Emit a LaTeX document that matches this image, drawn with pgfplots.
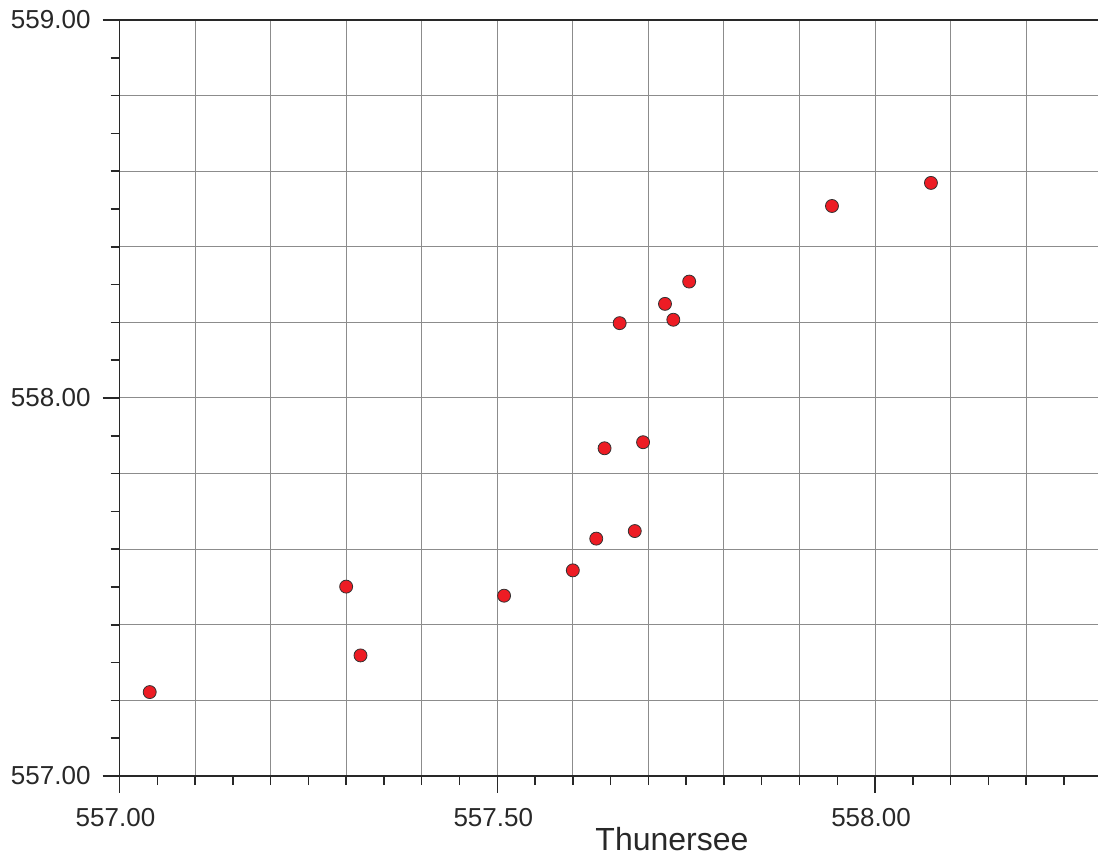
\documentclass[border=0pt]{standalone}
\usepackage{pgfplots}
\pgfplotsset{compat=1.18}
\usepackage{fontspec}
\setmainfont{Liberation Sans}
\definecolor{ptred}{RGB}{237,28,36}
\definecolor{ptedge}{RGB}{50,50,50}
\definecolor{gridgray}{RGB}{140,140,140}
\definecolor{axisgray}{RGB}{40,40,40}
\begin{document}
\begin{tikzpicture}
\begin{axis}[
  scale only axis,
  width=491.1pt, height=378pt,
  xmin=557, xmax=558.3, ymin=557, ymax=559,
  axis line style={axisgray, line width=0.75pt},
  tick style={axisgray, line width=0.75pt},
  tick align=outside,
  xtick pos=bottom, ytick pos=left,
  xtick={557,557.1,557.2,557.3,557.4,557.5,557.6,557.7,557.8,557.9,558,558.1,558.2,558.3},
  ytick={557,557.2,557.4,557.6,557.8,558,558.2,558.4,558.6,558.8,559},
  xticklabels={,,,,,,,,,,,,,,},
  yticklabels={,,,,,,,,,,,,},
  minor x tick num=1, minor y tick num=1,
  major tick length=4.5pt, minor tick length=4.5pt,
  grid=major,
  major grid style={gridgray, line width=0.5pt},
  extra x ticks={557,557.5,558},
  extra x tick labels={\mbox{557.00},\mbox{557.50},\mbox{558.00}},
  extra y ticks={557,558,559},
  extra y tick labels={\mbox{557.00},\mbox{558.00},\mbox{559.00}},
  extra x tick style={major tick length=8.5pt, grid=none},
  extra y tick style={major tick length=8.5pt, grid=none},
  xticklabel style={font=\fontsize{13}{15}\selectfont, text=axisgray, yshift=-4pt, xshift=-2pt},
  yticklabel style={font=\fontsize{13}{15}\selectfont, text=axisgray, xshift=-2.5pt},
  xlabel={Thunersee},
  xlabel style={font=\fontsize{16}{19}\selectfont, text=axisgray, at={(rel axis cs:0.5625,0)}, anchor=base, yshift=-37pt},
  clip=false,
]
\addplot[only marks, mark=*, mark size=3.25pt,
  mark options={fill=ptred, draw=ptedge, line width=0.4pt}]
coordinates {
(557.040,557.222)
(557.300,557.501)
(557.319,557.319)
(557.509,557.477)
(557.600,557.544)
(557.631,557.628)
(557.682,557.648)
(557.642,557.867)
(557.693,557.883)
(557.662,558.198)
(557.722,558.249)
(557.733,558.207)
(557.754,558.308)
(557.943,558.508)
(558.074,558.569)
};
\end{axis}
\pgfresetboundingbox
\path[use as bounding box] (-59.75pt,-40.5pt) rectangle (489.25pt,388pt);
\end{tikzpicture}
\end{document}
